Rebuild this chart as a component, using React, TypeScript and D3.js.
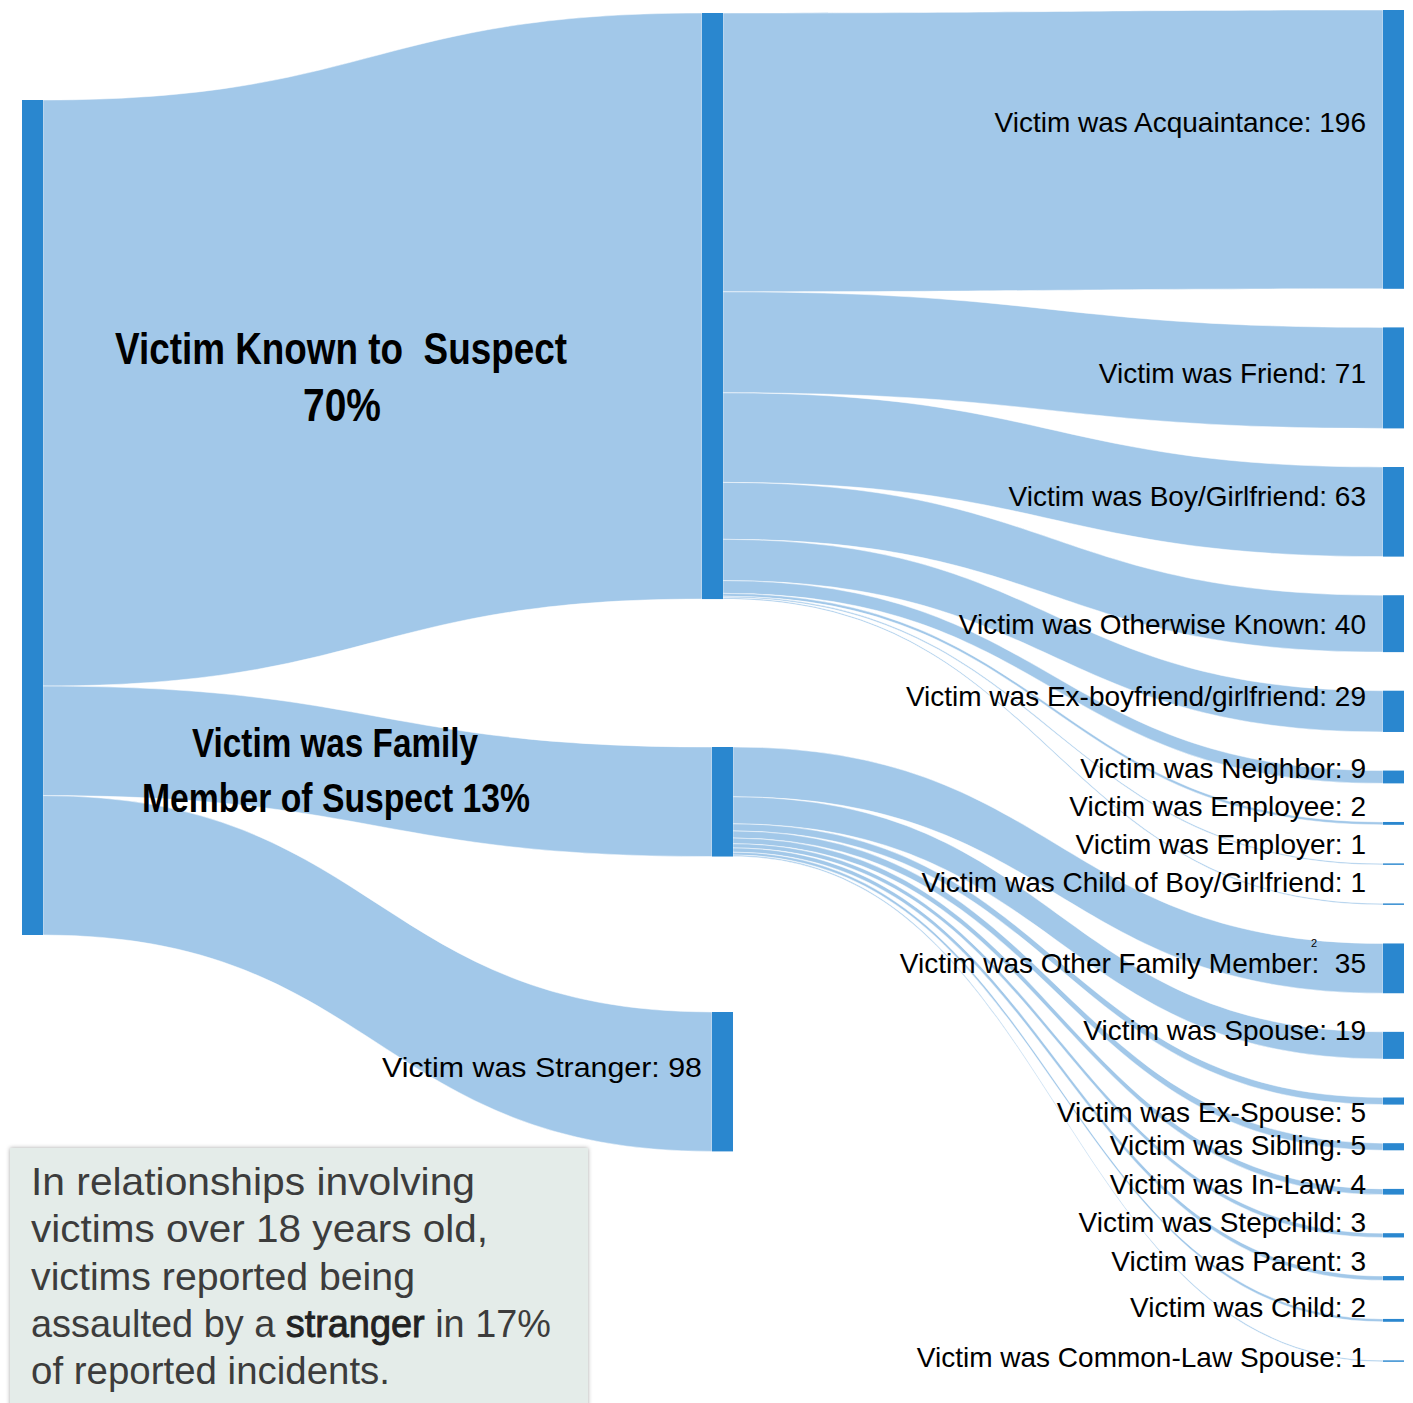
import React from "react";
import * as d3 from "d3";

// ---------------- DATA ----------------
const rootName = "All Reported Incidents";
const middleNames = ["Victim Known to Suspect", "Victim was Family Member of Suspect", "Victim was Stranger"];

const knownCategories = [
  "Victim was Acquaintance",
  "Victim was Friend",
  "Victim was Boy/Girlfriend",
  "Victim was Otherwise Known",
  "Victim was Ex-boyfriend/girlfriend",
  "Victim was Neighbor",
  "Victim was Employee",
  "Victim was Employer",
  "Victim was Child of Boy/Girlfriend",
];
const knownValues = [196, 71, 63, 40, 29, 9, 2, 1, 1];

const familyCategories = [
  "Victim was Other Family Member",
  "Victim was Spouse",
  "Victim was Ex-Spouse",
  "Victim was Sibling",
  "Victim was In-Law",
  "Victim was Stepchild",
  "Victim was Parent",
  "Victim was Child",
  "Victim was Common-Law Spouse",
];
const familyValues = [35, 19, 5, 5, 4, 3, 3, 2, 1];

const strangerValue = 98;

const knownLabel = ["Victim Known to  Suspect", "70%"];
const familyLabel = ["Victim was Family", "Member of Suspect 13%"];
const strayMark = "2";
const noteLines = [
  ["In relationships involving"],
  ["victims over 18 years old,"],
  ["victims reported being"],
  ["assaulted by a ", "stranger", " in 17%"],
  ["of reported incidents."],
];

// ---------------- LAYOUT ----------------
const W = 1413;
const H = 1403;
const NODE_W = 21;
const ROOT_X = 22;
const ROOT_Y = 100;
const ROOT_H = 835;
const MID_X = [702, 712, 712];
const MID_Y = [13, 747, 1012];
const RIGHT_X = 1383;
const RIGHT_TOP = 10;
const RIGHT_PAD = 38.6;
const LABEL_GAP_RIGHT = 17;
const LABEL_GAP_MID = 10;
// baseline shift of right-hand labels relative to node centre
const knownLabelShift = [-17, 5, -6, 10, -5, 1, -7, -10, -12];
const familyLabelShift = [5, -5, 21, 8, 2, -3, -7, -3, 6];
// rendered widths of the note lines
const noteLineWidths = [444, 457, 384, 520, 359];

const LINK_FILL = "#a2c8e9";
const NODE_FILL = "#2a87cf";

function ribbon(x0: number, x1: number, s0: number, s1: number, t0: number, t1: number) {
  const xm = d3.interpolateNumber(x0, x1)(0.5);
  const p = d3.path();
  p.moveTo(x0, s0);
  p.bezierCurveTo(xm, s0, xm, t0, x1, t0);
  p.lineTo(x1, t1);
  p.bezierCurveTo(xm, t1, xm, s1, x0, s1);
  p.closePath();
  return p.toString();
}

export default function App() {
  const knownTotal = d3.sum(knownValues);
  const familyTotal = d3.sum(familyValues);
  const midValues = [knownTotal, familyTotal, strangerValue];
  const total = d3.sum(midValues);
  const k = d3.scaleLinear().domain([0, total]).range([0, ROOT_H]);

  const root = { name: rootName, x0: ROOT_X, x1: ROOT_X + NODE_W, y0: ROOT_Y, y1: ROOT_Y + k(total) };
  const mids = midValues.map((v, i) => ({
    name: middleNames[i],
    value: v,
    x0: MID_X[i],
    x1: MID_X[i] + NODE_W,
    y0: MID_Y[i],
    y1: MID_Y[i] + k(v),
  }));

  const rightDefs = [
    ...knownCategories.map((c, i) => ({ name: c, value: knownValues[i], parent: 0, shift: knownLabelShift[i] })),
    ...familyCategories.map((c, i) => ({ name: c, value: familyValues[i], parent: 1, shift: familyLabelShift[i] })),
  ];
  let yy = RIGHT_TOP;
  const rights = rightDefs.map((d) => {
    const n = { ...d, x0: RIGHT_X, x1: RIGHT_X + NODE_W, y0: yy, y1: yy + k(d.value) };
    yy = n.y1 + RIGHT_PAD;
    return n;
  });

  const links: { d: string; key: string }[] = [];
  let sy = root.y0;
  mids.forEach((m, i) => {
    const h = k(m.value);
    links.push({ key: "r" + i, d: ribbon(root.x1, m.x0, sy, sy + h, m.y0, m.y1) });
    sy += h;
  });
  const offs = mids.map((m) => m.y0);
  rights.forEach((r, i) => {
    const m = mids[r.parent];
    const h = k(r.value);
    const s0 = offs[r.parent];
    offs[r.parent] += h;
    links.push({ key: "l" + i, d: ribbon(m.x1, r.x0, s0, s0 + h, r.y0, r.y1) });
  });

  const regFont = "'Liberation Sans', Arial, sans-serif";
  const boldFont = "'Liberation Sans', Arial, sans-serif";
  const otherFamIdx = knownCategories.length;

  return (
    <svg
      width={W}
      height={H}
      viewBox={`0 0 ${W} ${H}`}
      style={{ position: "absolute", left: 0, top: 0, background: "#fff" }}
    >
      <defs>
        <filter id="boxShadow" x="-5%" y="-5%" width="110%" height="110%">
          <feDropShadow dx="0" dy="0" stdDeviation="2" floodColor="#000" floodOpacity="0.35" />
        </filter>
      </defs>
      <g>
        {links.map((l) => (
          <path key={l.key} d={l.d} fill={LINK_FILL} stroke="#ffffff" strokeOpacity={0.55} strokeWidth={0.9} />
        ))}
      </g>
      <g fill={NODE_FILL}>
        <rect x={root.x0} y={root.y0} width={root.x1 - root.x0} height={root.y1 - root.y0} />
        {mids.map((m) => (
          <rect key={m.name} x={m.x0} y={m.y0} width={m.x1 - m.x0} height={m.y1 - m.y0} />
        ))}
        {rights.map((r) => (
          <rect key={r.name} x={r.x0} y={r.y0} width={r.x1 - r.x0} height={Math.max(1.2, r.y1 - r.y0)} />
        ))}
      </g>
      <g fontFamily={regFont} fontSize={28} fill="#000" textAnchor="end">
        {rights.map((r, i) => (
          <text
            key={r.name}
            x={r.x0 - LABEL_GAP_RIGHT}
            y={(r.y0 + r.y1) / 2 + r.shift}
            xmlSpace="preserve"
            style={{ whiteSpace: "pre" }}
          >
            {i === otherFamIdx ? `${r.name}:  ${r.value}` : `${r.name}: ${r.value}`}
          </text>
        ))}
        <text
          x={mids[2].x0 - LABEL_GAP_MID}
          y={(mids[2].y0 + mids[2].y1) / 2 - 5}
          textLength={320}
          lengthAdjust="spacingAndGlyphs"
        >
          {`${mids[2].name}: ${mids[2].value}`}
        </text>
      </g>
      <text x={1314} y={947} fontFamily={regFont} fontSize={11} textAnchor="middle" fill="#000">
        {strayMark}
      </text>
      <g fontFamily={boldFont} fontWeight="bold" fill="#000" textAnchor="middle">
        <text x={341} y={364} fontSize={45} textLength={452} lengthAdjust="spacingAndGlyphs" xmlSpace="preserve" style={{ whiteSpace: "pre" }}>
          {knownLabel[0]}
        </text>
        <text x={342} y={421} fontSize={46} textLength={78} lengthAdjust="spacingAndGlyphs">
          {knownLabel[1]}
        </text>
        <text x={335} y={757} fontSize={41} textLength={286} lengthAdjust="spacingAndGlyphs">
          {familyLabel[0]}
        </text>
        <text x={336} y={812} fontSize={41} textLength={388} lengthAdjust="spacingAndGlyphs">
          {familyLabel[1]}
        </text>
      </g>
      <rect x={10} y={1148} width={578} height={270} fill="#e4ece9" filter="url(#boxShadow)" />
      <g fontFamily={regFont} fontSize={38.5} fill="#3c3c3c">
        {noteLines.map((parts, i) => (
          <text
            key={i}
            x={31}
            y={1195 + i * 47.3}
            xmlSpace="preserve"
            style={{ whiteSpace: "pre" }}
            textLength={noteLineWidths[i]}
            lengthAdjust="spacingAndGlyphs"
          >
            {parts.map((p, j) =>
              p === "stranger" ? (
                <tspan key={j} fill="#222" stroke="#222" strokeWidth={0.9}>
                  {p}
                </tspan>
              ) : (
                <tspan key={j}>{p}</tspan>
              )
            )}
          </text>
        ))}
      </g>
    </svg>
  );
}
